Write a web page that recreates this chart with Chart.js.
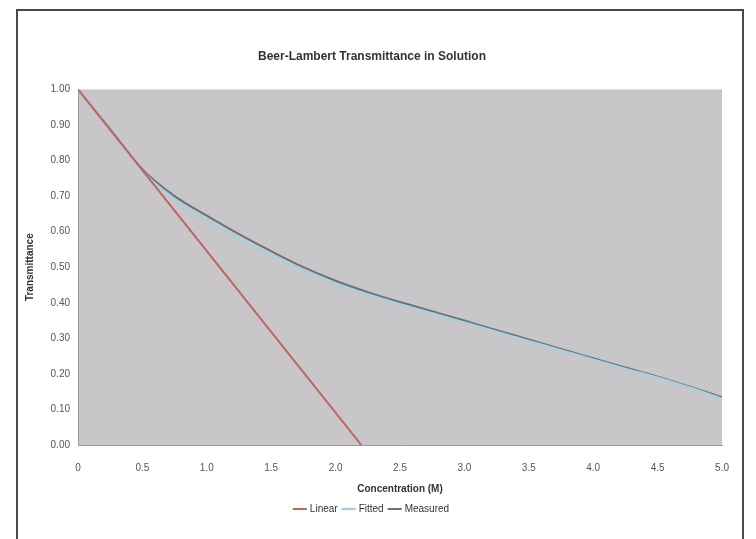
<!DOCTYPE html>
<html>
<head>
<meta charset="utf-8">
<script src="https://cdn.jsdelivr.net/npm/chart.js@4.4.1/dist/chart.umd.min.js"></script>
<style>
  html, body { margin: 0; padding: 0; background: #fff; }
  #frame {
    position: absolute; left: 16px; top: 9px;
    width: 724px; height: 540px;
    border: 2px solid #4a4a4a; border-bottom: none;
    background: #fff;
  }
  #chart { display: block; }
</style>
</head>
<body>
<div id="frame"><canvas id="chart" width="724" height="530"></canvas></div>
<script>
// データ
const xValues = [0, 0.25, 0.5, 0.75, 1, 1.25, 1.5, 1.75, 2, 2.25, 2.5, 2.75, 3, 3.25, 3.5, 3.75, 4, 4.25, 4.5, 4.75, 5];
const measuredValues = [1.000, 0.888, 0.775, 0.700, 0.645, 0.593, 0.545, 0.500, 0.462, 0.430, 0.402, 0.376, 0.350, 0.323, 0.297, 0.270, 0.244, 0.218, 0.192, 0.164, 0.134];
const fittedValues = [1.000, 0.886, 0.770, 0.688, 0.630, 0.578, 0.532, 0.489, 0.452, 0.422, 0.395, 0.370, 0.344, 0.318, 0.292, 0.266, 0.240, 0.214, 0.189, 0.161, 0.130];
const linearX = [0, 2.2];
const linearValues = [1.0, 0.0];
const seriesNames = ['Linear', 'Fitted', 'Measured'];
const chartTitle = 'Beer-Lambert Transmittance in Solution';
const xTitle = 'Concentration (M)';
const yTitle = 'Transmittance';

const toPoints = (xs, ys) => xs.map((x, i) => ({ x: x, y: ys[i] }));

// プロット領域の背景
const plotBackground = {
    id: 'plotBackground',
    beforeDraw(chart) {
        const { ctx, chartArea: a } = chart;
        ctx.save();
        ctx.fillStyle = '#c8c6c9';
        ctx.fillRect(a.left, a.top, a.right - a.left, a.bottom - a.top);
        ctx.restore();
    }
};

const family = '"Liberation Sans", Arial, sans-serif';
const tickFont = { family: family, size: 10 };

new Chart(document.getElementById('chart').getContext('2d'), {
    type: 'line',
    data: {
        datasets: [
            {
                label: seriesNames[0],
                data: toPoints(linearX, linearValues),
                borderColor: '#c0635e',
                backgroundColor: '#c0635e',
                borderWidth: 2,
                pointRadius: 0,
                tension: 0
            },
            {
                label: seriesNames[1],
                data: toPoints(xValues, fittedValues),
                borderColor: '#a9cfdc',
                backgroundColor: '#7c8488',
                borderWidth: 2.5,
                pointRadius: 0,
                cubicInterpolationMode: 'monotone'
            },
            {
                label: seriesNames[2],
                data: toPoints(xValues, measuredValues),
                borderColor: '#6c7377',
                backgroundColor: '#6c7377',
                borderWidth: 2,
                pointRadius: 0,
                cubicInterpolationMode: 'monotone'
            }
        ]
    },
    options: {
        responsive: false,
        animation: false,
        layout: { padding: { left: 4, right: 20, top: 0, bottom: 17 } },
        plugins: {
            title: {
                display: true,
                text: chartTitle,
                color: '#333',
                font: { family: family, size: 12, weight: 'bold' },
                padding: { top: 38, bottom: 26 }
            },
            legend: {
                position: 'bottom',
                labels: {
                    color: '#333',
                    font: { family: family, size: 10 },
                    usePointStyle: true,
                    pointStyle: 'line',
                    boxWidth: 30,
                    padding: 6
                }
            },
            tooltip: { enabled: false }
        },
        scales: {
            x: {
                type: 'linear',
                min: 0,
                max: 5,
                ticks: { stepSize: 0.5, color: '#555', font: tickFont, padding: 13 },
                grid: { display: false, drawTicks: true, tickLength: 4 },
                border: { display: true, color: '#9a9a9a' },
                title: { display: true, text: xTitle, color: '#333', font: { family: family, size: 10, weight: 'bold' }, padding: { top: -4, bottom: 3 } }
            },
            y: {
                min: 0,
                max: 1,
                afterFit(scale) { scale.width = 56; },
                ticks: {
                    stepSize: 0.1,
                    color: '#555',
                    font: tickFont,
                    padding: 4,
                    callback: v => v.toFixed(2)
                },
                grid: { display: false, drawTicks: true, tickLength: 4 },
                border: { display: true, color: '#9a9a9a' },
                title: { display: true, text: yTitle, color: '#333', font: { family: family, size: 10, weight: 'bold' }, padding: 2 }
            }
        }
    },
    plugins: [plotBackground]
});
</script>
</body>
</html>
